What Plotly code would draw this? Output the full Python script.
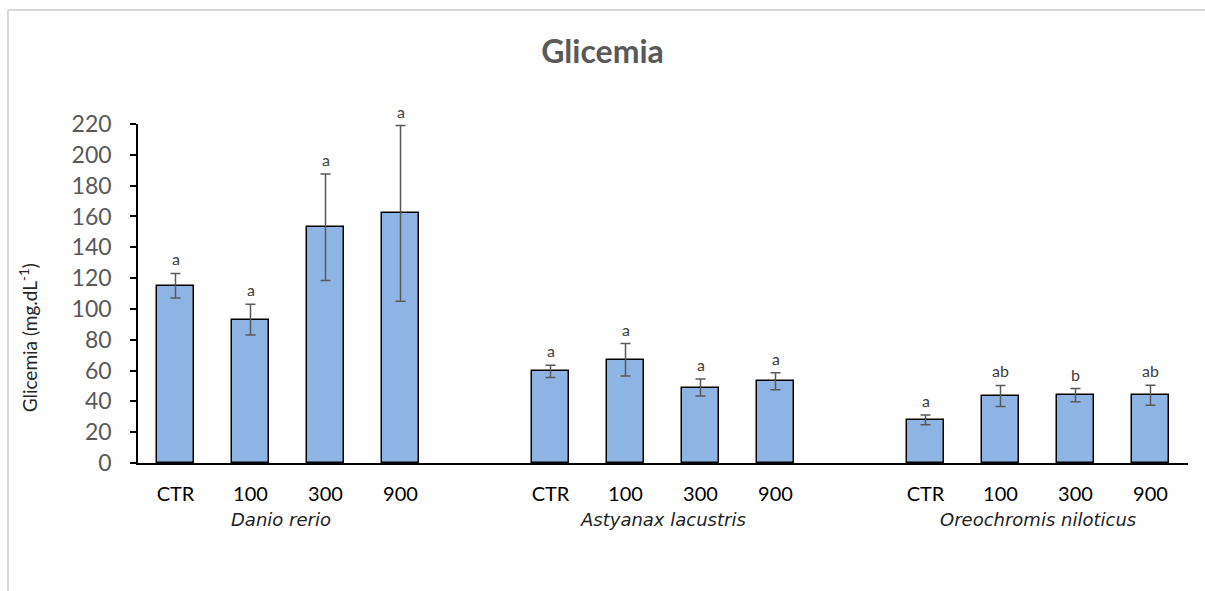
import plotly.graph_objects as go

groups = ["Danio rerio", "Astyanax lacustris", "Oreochromis niloticus"]
treatments = ["CTR", "100", "300", "900"]
means = [[115, 93, 153, 162],
         [59.5, 67, 49, 53],
         [28, 43.5, 44, 44]]
errors = [[8, 10, 34.5, 57],
          [4, 10.5, 5.5, 5.5],
          [3.2, 6.8, 4.3, 6.5]]
letters = [["a", "a", "a", "a"],
           ["a", "a", "a", "a"],
           ["a", "ab", "b", "ab"]]
yticks = list(range(0, 221, 20))

xs, ys, es, labs, ticktext = [], [], [], [], []
for g in range(3):
    for t in range(4):
        xs.append(g * 5 + t)
        ys.append(means[g][t])
        es.append(errors[g][t])
        labs.append(letters[g][t])
        ticktext.append(treatments[t])

fig = go.Figure()
fig.add_trace(go.Bar(
    x=xs, y=ys, width=0.5,
    marker=dict(color="#8EB4E3", line=dict(color="#000000", width=1.5)),
    error_y=dict(type="data", array=es, visible=True, color="#595959", thickness=1.5, width=5),
    showlegend=False,
))

for x, y, e, l in zip(xs, ys, es, labs):
    fig.add_annotation(x=x, y=y + e, text=l, showarrow=False, yanchor="bottom", yshift=3,
                       font=dict(family="Lato, Open Sans, sans-serif", size=16, color="#404040"))

centers = [1.4, 6.5, 11.5]
for g, c in zip(groups, centers):
    fig.add_annotation(x=c, y=0, xref="x", yref="paper", text=f"<i>{g}</i>", showarrow=False,
                       yanchor="middle", yshift=-56,
                       font=dict(family="DejaVu Sans, sans-serif", size=18, color="#222222"))

fig.add_annotation(x=-0.104, xref="paper", y=0.37, yref="paper",
                   text="Glicemia (mg.dL<sup>-1</sup>)", textangle=-90, showarrow=False,
                   xanchor="center", yanchor="middle",
                   font=dict(family="Lato, Open Sans, sans-serif", size=19, color="#262626"))

# chart border (left and top)
fig.add_shape(type="line", xref="paper", yref="paper", x0=-0.1238, x1=-0.1238, y0=1.336, y1=-0.4,
              line=dict(color="#D9D9D9", width=2))
fig.add_shape(type="line", xref="paper", yref="paper", x0=-0.1238, x1=1.02, y0=1.336, y1=1.336,
              line=dict(color="#D9D9D9", width=2))

fig.update_layout(
    width=1205, height=591,
    margin=dict(l=138, r=17, t=124, b=128),
    paper_bgcolor="white", plot_bgcolor="white",
    title=dict(text="<b>Glicemia</b>", x=0.5, xanchor="center", y=0.912, yanchor="middle",
               font=dict(family="Lato, Open Sans, sans-serif", size=32, color="#595959")),
    xaxis=dict(range=[-0.5, 13.5], tickmode="array", tickvals=xs, ticktext=ticktext,
               showline=True, linecolor="#000000", linewidth=1.5, ticks="", showgrid=False,
               zeroline=False, ticklabelstandoff=12,
               tickfont=dict(family="Lato, Open Sans, sans-serif", size=20, color="#000000")),
    yaxis=dict(range=[0, 220], tickmode="array", tickvals=yticks,
               showline=True, linecolor="#000000", linewidth=1.5, ticks="outside", ticklen=6,
               tickcolor="#000000", tickwidth=1.5, showgrid=False, zeroline=False,
               ticklabelstandoff=14,
               tickfont=dict(family="Lato, Open Sans, sans-serif", size=23, color="#595959")),
    bargap=0,
)

fig.write_html("out.html", config={"displayModeBar": False},
               post_script="document.body.style.margin='0';")
